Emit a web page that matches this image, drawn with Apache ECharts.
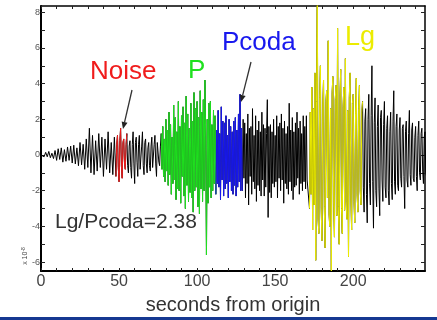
<!DOCTYPE html>
<html>
<head>
<meta charset="utf-8">
<script src="https://cdn.jsdelivr.net/npm/echarts@6/dist/echarts.min.js"></script>
<style>
  html, body { margin: 0; padding: 0; background: #ffffff; }
  #chart { width: 437px; height: 320px; }
</style>
</head>
<body>
<div id="chart"></div>
<script>
// Seismogram trace, amplitude in units of 1e-8.
// The quiet opening stretch is kept at 1 s resolution, the rest at 0.5 s.
const COARSE_STEP = 1;
const FINE_STEP = 0.5;

const xLabelValues = [0, 50, 100, 150, 200];
const yLabelValues = [-6, -4, -2, 0, 2, 4, 6, 8];

// Quiet record before the noise window (1 s)
const preNoiseStart = 0;
const preNoise = [
  0, 0.1, -0.1, 0.15, -0.1, 0.2, -0.15, 0.1, -0.2, 0.25,
  -0.3, 0.35, -0.25, 0.4, -0.4, 0.3, -0.35, 0.45, -0.3, 0.5,
  -0.45, 0.55, -0.5, 0.4, -0.6, 0.7, -0.55, 0.6, -0.8, 0.9,
  -0.7, 1.5, -1.0, 1.1, -1.1, 0.8, -0.9, 1.2, -0.7, 1.0,
  -1.2, 0.9, -0.8, 1.3, -1.0, 0.7, -1.1, 1.0
];

// Noise window (0.5 s)
const noiseStart = 48;
const noise = [
  -1.2, 0.6, 1.1, -0.7, -1.5, 0.8, 1.5, -0.6, -1.3, 0.7,
  0.9, -0.5, -0.8, 0.6
];

// Between noise and P (0.5 s)
const prePStart = 55;
const preP = [
  1.2, -0.6, -1.0, 0.5, 0.8, -0.7, -1.3, 0.6, 1.3, -0.5,
  -1.6, 0.7, 1.0, -0.4, -1.2, 0.6, 1.1, -0.8, -0.9, 0.5,
  1.3, -0.6, -1.1, 0.7, 0.9, -0.5, -1.0, 0.4, 0.7, -0.6,
  -0.9, 0.5, 1.0, -0.7, -0.8, 0.6, 1.1, -0.5, -1.2, 0.7,
  0.8, -0.4, -0.6, 0.5
];

// P window (0.5 s)
const pStart = 77;
const pWave = [
  1.2, -0.8, 1.6, -1.2, 0.9, -1.5, 2.0, -0.9, 1.4, -1.7,
  2.4, -1.1, 1.7, -2.2, 1.0, -1.6, 2.8, -1.4, 2.1, -2.5,
  1.3, -1.9, 3.0, -2.0, 1.6, -2.7, 2.2, -1.2, 2.7, -2.3,
  1.8, -3.0, 3.3, -1.7, 2.3, -2.6, 1.5, -2.1, 2.9, -2.4,
  1.9, -3.2, 3.5, -2.0, 2.6, -1.8, 3.0, -2.9, 2.1, -3.3,
  3.6, -1.9, 2.4, -2.6, 3.1, -2.0, 4.2, 1.0, -5.6, 2.0,
  -2.7, 2.9, -1.8, 3.0, -2.4, 1.7, -2.0, 2.5, -1.6, 2.2
];

// P coda window (0.5 s)
const pCodaStart = 112;
const pCoda = [
  -2.2, 1.4, -1.6, 2.5, -1.8, 1.2, -2.5, 2.7, -1.4, 1.9,
  -2.3, 1.8, -1.9, 2.2, -1.6, 1.1, -2.4, 2.0, -1.5, 1.6,
  -2.0, 1.3, -2.2, 1.9, -1.7, 2.1, -2.3, 1.4, -1.8, 2.3,
  -1.5, 3.4, -2.0, 1.5
];

// Between P coda and Lg (0.5 s)
const preLgStart = 129;
const preLg = [
  -2.0, 2.0, -1.3, 1.8, -2.4, 1.2, -1.6, 2.3, -2.8, 1.5,
  -1.2, 1.6, -2.2, 2.6, -1.5, 1.1, -1.9, 2.2, -2.6, 1.4,
  -1.7, 1.9, -2.0, 1.3, -2.3, 2.4, -1.4, 1.7, -2.3, 1.5,
  -1.8, 1.2, 3.1, -3.5, 1.6, -2.1, 1.7, -2.4, 1.3, -1.6,
  2.0, -1.8, 1.1, -1.5, 2.2, -2.4, 1.6, -1.3, 1.8, -2.0,
  2.3, -1.4, 1.5, -2.7, 1.9, -1.6, 1.2, -1.9, 1.6, -2.2,
  2.9, -1.5, 1.4, -2.0, 2.1, -2.5, 1.3, -1.8, 1.8, -1.7,
  2.4, -1.3, 1.5, -2.2, 1.9, -1.6, 1.2, -2.0, 2.2, -1.5,
  1.6, -1.9, 2.2, -1.4
];

// Lg window (0.5 s)
const lgStart = 172;
const lg = [
  -3.0, 2.4, -2.2, 3.8, -4.2, 2.6, -2.8, 4.6, -5.9, 3.0,
  9.5, -3.6, -4.4, 3.2, 5.0, -3.0, -4.8, 2.8, 4.2, -2.9,
  -5.2, 3.0, 3.6, -2.4, 6.4, -3.3, -4.0, 2.6, -6.5, 3.5,
  4.4, -2.8, -4.6, 3.1, 3.9, -3.4, 7.1, -2.9, -5.0, 3.3,
  4.8, -3.0, -4.4, 2.7, 3.8, -3.1, 5.4, -2.6, -3.6, 2.5,
  -5.7, 3.2, 4.6, -2.4, -4.2, 2.9, 3.4, -2.6, -3.8, 2.3,
  4.3, -2.2, -3.2, 2.6, 3.9, -2.0, -2.8, 2.4
];

// Tail after Lg (0.5 s)
const postLgStart = 206;
const postLg = [
  3.0, -1.8, -3.2, 1.9, 2.6, -2.2, -3.8, 2.0, 3.4, -1.6,
  -2.8, 2.2, 5.0, -1.5, -4.1, 1.8, 3.2, -2.0, -2.9, 1.6,
  2.8, -1.9, -3.4, 2.1, 2.5, -1.4, -2.6, 1.7, 3.0, -1.8,
  -2.4, 1.5, 2.2, -2.0, -2.8, 1.3, 2.4, -1.6, -2.5, 1.9,
  3.6, -1.5, -2.2, 1.6, 2.3, -1.7, -2.0, 1.4, 2.1, -1.3,
  -1.8, 1.5, 1.7, -1.2, -3.0, 1.3, 1.9, -1.4, -1.8, 1.2,
  2.5, -1.1, -1.7, 1.4, 1.8, -1.3, -1.5, 1.0, 1.6, -1.2,
  -2.0, 1.1, 1.9, -1.0, -1.4, 1.2, 1.5, -0.9, -1.6, 1.0,
  1.3, -1.0, -1.2, 0.9
];

function toPoints(start, step, values) {
  return values.map((v, i) => [start + i * step, v]);
}

const segPreNoise = toPoints(preNoiseStart, COARSE_STEP, preNoise);
const segNoise = toPoints(noiseStart, FINE_STEP, noise);
const segPreP = toPoints(prePStart, FINE_STEP, preP);
const segP = toPoints(pStart, FINE_STEP, pWave);
const segPCoda = toPoints(pCodaStart, FINE_STEP, pCoda);
const segPreLg = toPoints(preLgStart, FINE_STEP, preLg);
const segLg = toPoints(lgStart, FINE_STEP, lg);
const segPostLg = toPoints(postLgStart, FINE_STEP, postLg);

const fullTrace = [].concat(
  segPreNoise, segNoise, segPreP, segP, segPCoda, segPreLg, segLg, segPostLg
);

// A coloured window runs up to the first sample of the next stretch
const windowNoise = segNoise.concat([segPreP[0]]);
const windowP = segP.concat([segPCoda[0]]);
const windowPCoda = segPCoda.concat([segPreLg[0]]);
const windowLg = segLg.concat([segPostLg[0]]);

const FONT = '"Liberation Sans", Arial, sans-serif';
const X_MAX = 246, Y_MIN = -6.5, Y_MAX = 8.35;

const xTickValues = [];
for (let v = 0; v <= X_MAX; v += 10) xTickValues.push(v);
const yTickValues = [];
for (let v = -6; v <= 8; v += 1) yTickValues.push(v);

function traceSeries(data, color, z) {
  return {
    type: 'line', data: data, showSymbol: false, symbol: 'none',
    animation: false, clip: true, z: z,
    lineStyle: { color: color, width: 1 }
  };
}

function arrow(x1, y1, x2, y2) {
  const ang = Math.atan2(y2 - y1, x2 - x1);
  const len = 7, half = 3;
  const bx = x2 - len * Math.cos(ang), by = y2 - len * Math.sin(ang);
  const px = -Math.sin(ang) * half, py = Math.cos(ang) * half;
  return [
    { type: 'line', shape: { x1: x1, y1: y1, x2: bx, y2: by },
      style: { stroke: '#333', lineWidth: 1.3 }, z: 20 },
    { type: 'polygon', shape: { points: [[x2, y2], [bx + px, by + py], [bx - px, by - py]] },
      style: { fill: '#222' }, z: 20 }
  ];
}

const chart = echarts.init(document.getElementById('chart'), null, { renderer: 'canvas' });

const hiddenLabel = { show: false };

chart.setOption({
  backgroundColor: '#ffffff',
  animation: false,
  grid: { left: 41, right: 12, top: 6, bottom: 43 },
  xAxis: [
    {
      type: 'value', min: 0, max: X_MAX, position: 'bottom',
      name: 'seconds from origin', nameLocation: 'middle', nameGap: 24,
      nameTextStyle: { fontFamily: FONT, fontSize: 20, color: '#333' },
      axisLine: { show: true, onZero: false, lineStyle: { color: '#000', width: 2 } },
      axisTick: { show: true, inside: true, length: 3, customValues: xTickValues,
        lineStyle: { color: '#222', width: 1 } },
      axisLabel: { customValues: xLabelValues, fontFamily: FONT, fontSize: 16, color: '#444', margin: 3 },
      splitLine: { show: false }
    },
    {
      type: 'value', min: 0, max: X_MAX, position: 'top',
      axisLine: { show: true, onZero: false, lineStyle: { color: '#000', width: 1.5 } },
      axisTick: { show: true, inside: true, length: 3, customValues: xTickValues,
        lineStyle: { color: '#222', width: 1 } },
      axisLabel: hiddenLabel, splitLine: { show: false }
    }
  ],
  yAxis: [
    {
      type: 'value', min: Y_MIN, max: Y_MAX, position: 'left',
      axisLine: { show: true, onZero: false, lineStyle: { color: '#000', width: 2 } },
      axisTick: { show: true, inside: true, length: 4, customValues: yTickValues,
        lineStyle: { color: '#222', width: 1 } },
      axisLabel: { customValues: yLabelValues, fontFamily: FONT, fontSize: 9, color: '#555', margin: 1 },
      splitLine: { show: false }
    },
    {
      type: 'value', min: Y_MIN, max: Y_MAX, position: 'right',
      axisLine: { show: true, onZero: false, lineStyle: { color: '#000', width: 1.5 } },
      axisTick: { show: true, inside: true, length: 4, customValues: yTickValues,
        lineStyle: { color: '#222', width: 1 } },
      axisLabel: hiddenLabel, splitLine: { show: false }
    }
  ],
  series: [
    traceSeries(fullTrace, '#000000', 2),
    traceSeries(windowNoise, '#f01c1c', 3),
    traceSeries(windowP, '#1fe01f', 3),
    traceSeries(windowPCoda, '#1818ee', 3),
    traceSeries(windowLg, '#ecec00', 3)
  ],
  graphic: [
    { type: 'text', x: 90, y: 72, z: 20,
      style: { text: 'Noise', font: '26px ' + FONT, fill: '#f01c1c', textVerticalAlign: 'middle' } },
    { type: 'text', x: 188, y: 71, z: 20,
      style: { text: 'P', font: '26px ' + FONT, fill: '#1fe01f', textVerticalAlign: 'middle' } },
    { type: 'text', x: 222, y: 43, z: 20,
      style: { text: 'Pcoda', font: '26px ' + FONT, fill: '#1818ee', textVerticalAlign: 'middle' } },
    { type: 'text', x: 345, y: 38, z: 20,
      style: { text: 'Lg', font: '27px ' + FONT, fill: '#ecec00', textVerticalAlign: 'middle' } },
    { type: 'text', x: 55, y: 222, z: 20,
      style: { text: 'Lg/Pcoda=2.38', font: '21px ' + FONT, fill: '#333', textVerticalAlign: 'middle' } },
    { type: 'text', x: 25, y: 256, rotation: Math.PI / 2, z: 20,
      style: { text: 'x 10{sup|-8}', font: '7px ' + FONT, fill: '#444',
        textAlign: 'center', textVerticalAlign: 'middle',
        rich: { sup: { fontSize: 5, fill: '#444', verticalAlign: 'top', padding: [0, 0, 3, 0] } } } },
    ...arrow(132, 90, 123, 129),
    ...arrow(251, 62, 241, 102),
    { type: 'rect', shape: { x: 0, y: 317, width: 437, height: 3 },
      style: { fill: '#153891' }, z: 20 }
  ]
});
</script>
</body>
</html>
